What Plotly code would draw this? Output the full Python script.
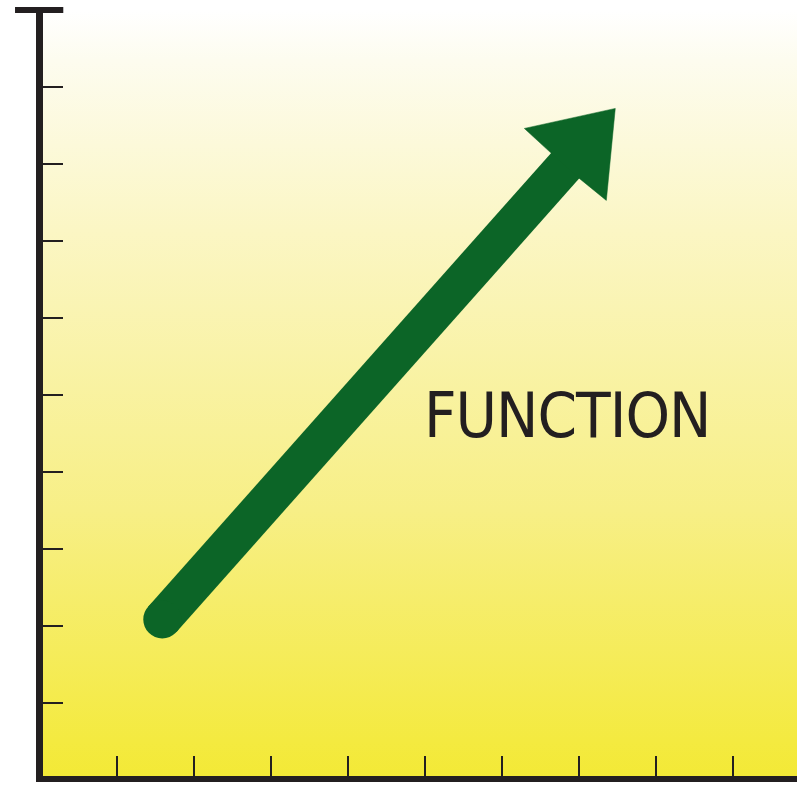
import plotly.graph_objects as go

# ---- data (in axis units: one tick = 1 unit) ----
tick_vals = [1, 2, 3, 4, 5, 6, 7, 8, 9]

shaft_x = [1.588, 6.84]
shaft_y = [2.086, 8.0]

head_x = [7.471, 6.290, 6.627, 7.004, 7.355]
head_y = [8.722, 8.462, 8.151, 7.813, 7.527]

label_text = "FUNCTION"
label_x = [6.848]
label_y = [4.735]

x_range = [0.039, 9.831]
y_range = [0.052, 10.0]

AXIS = "#231f20"
GREEN = "#0c6527"

fig = go.Figure()

# background gradient (white at top to yellow at bottom)
fig.add_trace(go.Scatter(
    x=[x_range[0], x_range[1], x_range[1], x_range[0]],
    y=[0, 0, 10, 10],
    mode="none", fill="toself",
    fillgradient=dict(type="vertical", start=0, stop=10,
                      colorscale=[[0, "#f3e935"], [0.051, "#f4ea40"], [0.35, "#f7ef86"],
                                  [0.714, "#fbf6c4"], [0.935, "#fdfcef"], [1, "#ffffff"]]),
    hoverinfo="skip", showlegend=False))

# arrow shaft
fig.add_trace(go.Scatter(
    x=shaft_x, y=shaft_y, mode="lines",
    line=dict(color=GREEN, width=38), hoverinfo="skip", showlegend=False))
# round cap at start
fig.add_trace(go.Scatter(
    x=shaft_x[:1], y=shaft_y[:1], mode="markers",
    marker=dict(color=GREEN, size=38, line=dict(width=0)),
    hoverinfo="skip", showlegend=False))
# arrow head
fig.add_trace(go.Scatter(
    x=head_x + head_x[:1], y=head_y + head_y[:1], mode="lines", fill="toself",
    fillcolor=GREEN, line=dict(color=GREEN, width=0.5),
    hoverinfo="skip", showlegend=False))

fig.add_annotation(
    x=label_x[0], y=label_y[0], xref="x", yref="y",
    text='<span style="letter-spacing:-1px">' + label_text + '</span>',
    showarrow=False, xanchor="center", yanchor="middle",
    font=dict(family="DejaVu Sans Condensed", size=63, color=AXIS))

# T cap on top of the y axis
fig.add_shape(type="line", xref="paper", yref="paper",
              x0=-0.0371, x1=0.0269, y0=1, y1=1,
              line=dict(color=AXIS, width=6))

fig.update_xaxes(range=x_range, showline=True, linewidth=6, linecolor=AXIS,
                 ticks="inside", ticklen=20, tickwidth=2, tickcolor=AXIS,
                 tickvals=tick_vals, showticklabels=False, showgrid=False,
                 zeroline=False, fixedrange=True)
fig.update_yaxes(range=y_range, showline=True, linewidth=7, linecolor=AXIS,
                 ticks="inside", ticklen=20, tickwidth=2, tickcolor=AXIS,
                 tickvals=tick_vals, showticklabels=False, showgrid=False,
                 zeroline=False, fixedrange=True)

fig.update_layout(
    width=797, height=799,
    margin=dict(l=43, r=0, t=10, b=23, pad=0),
    paper_bgcolor="white", plot_bgcolor="white",
    showlegend=False)

fig.write_html("out.html", config={"displayModeBar": False},
               post_script="document.body.style.margin='0';document.body.style.overflow='hidden';")
